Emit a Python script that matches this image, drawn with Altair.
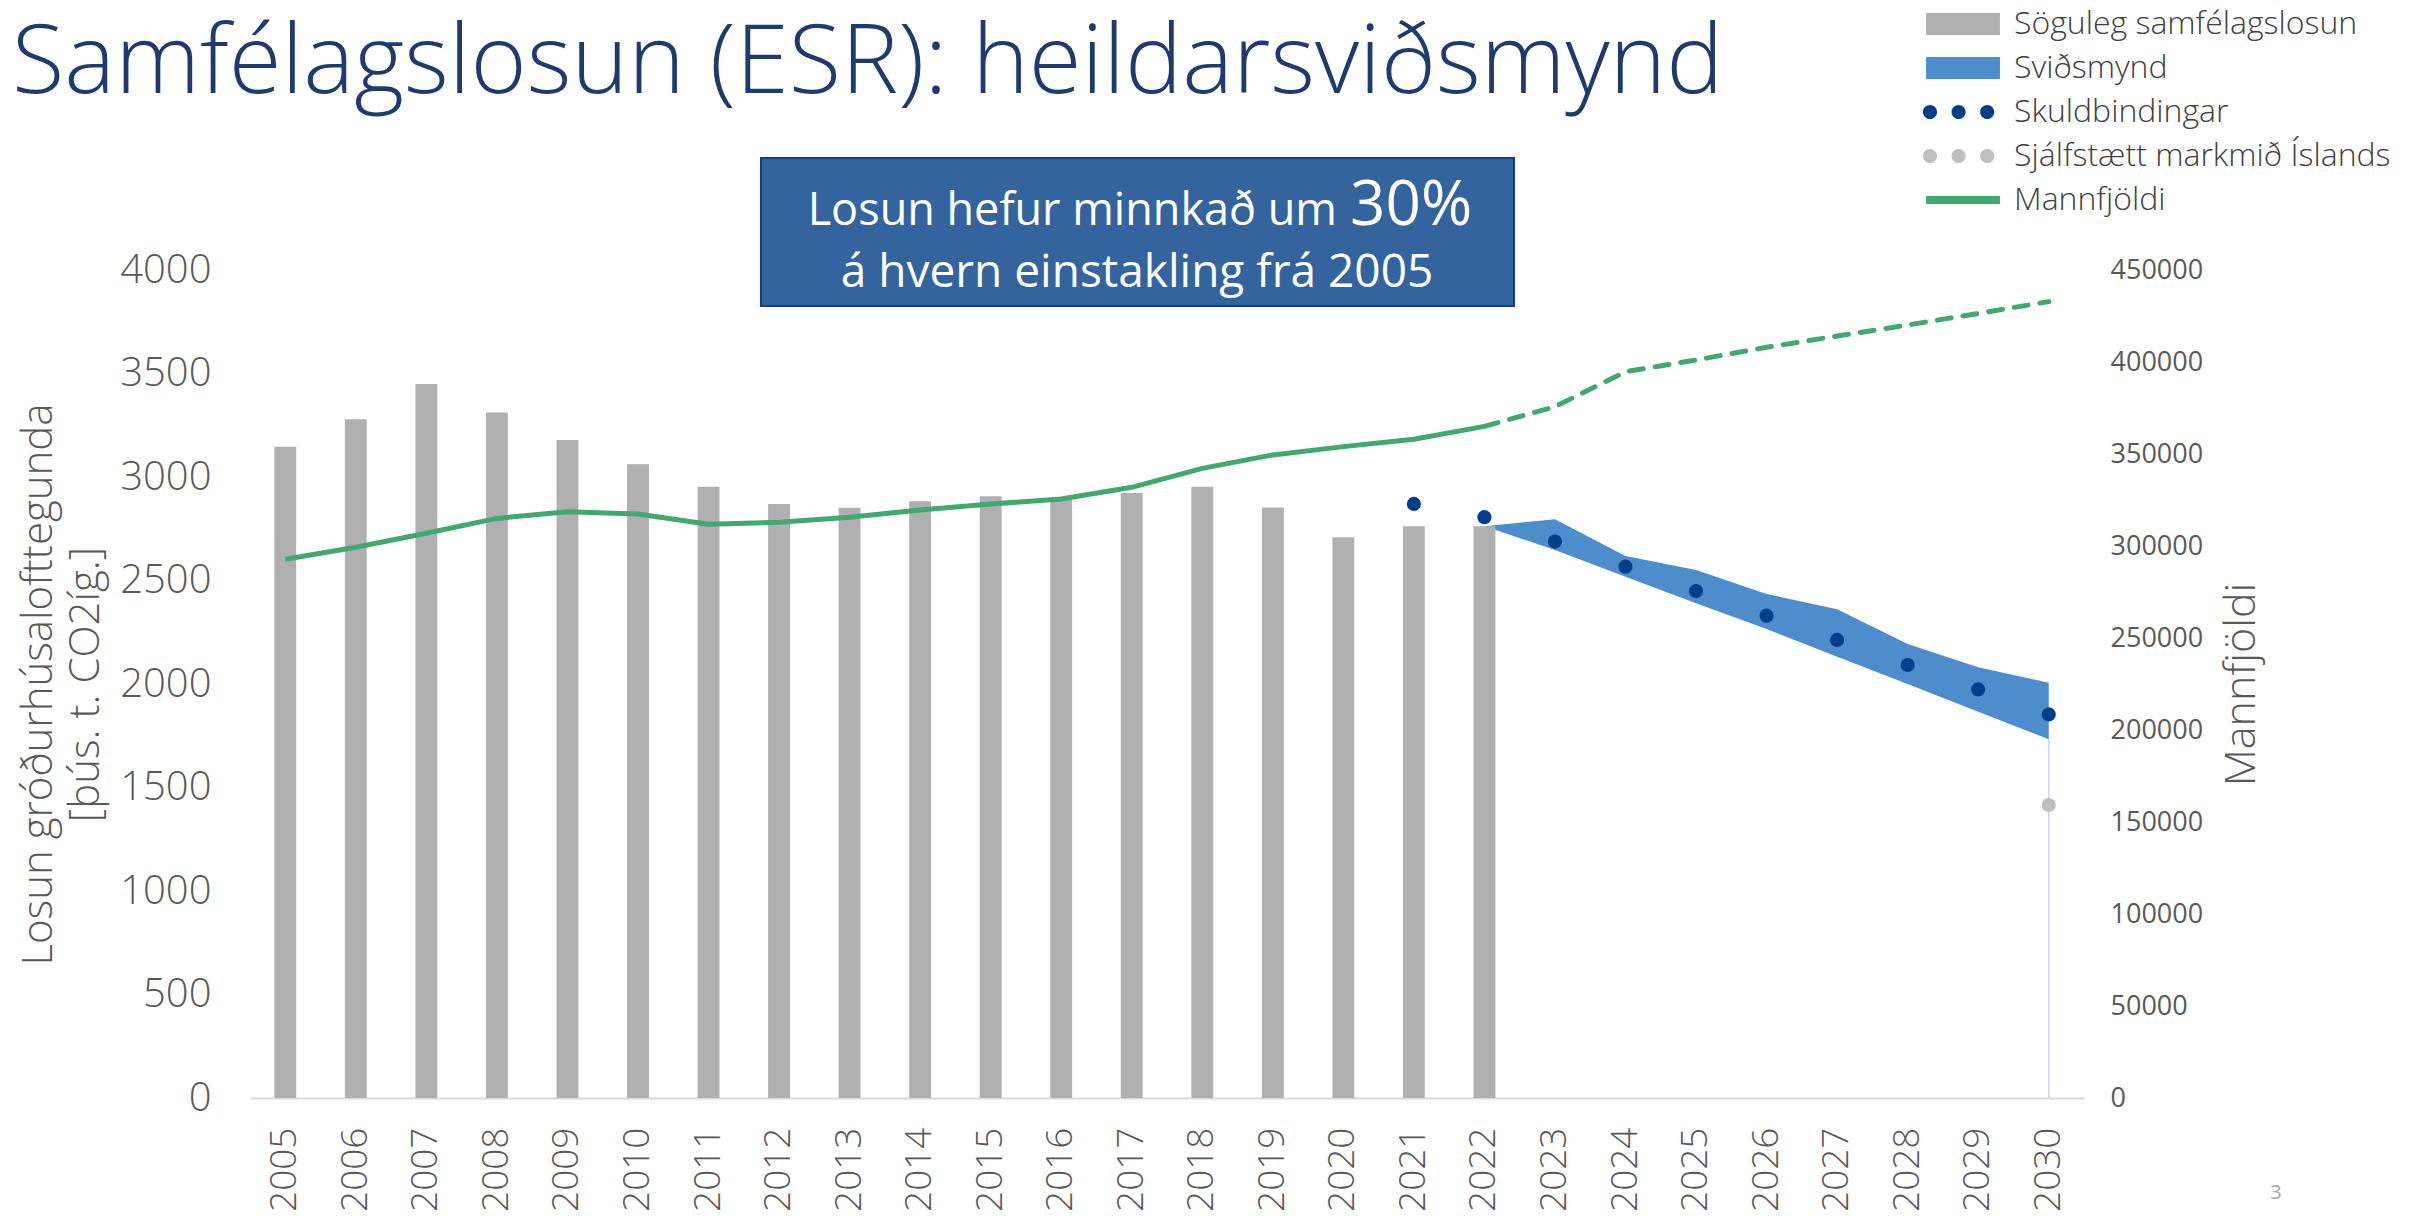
import altair as alt
import pandas as pd

# ---------------- data ----------------
years = list(range(2005, 2031))

hist_years = list(range(2005, 2023))
hist_emissions = [3146, 3279, 3449, 3311, 3179, 3061, 2953, 2870, 2852, 2883,
                  2907, 2890, 2923, 2953, 2853, 2709, 2762, 2762]

scen_years = list(range(2022, 2031))
scen_high = [2762, 2796, 2618, 2551, 2435, 2361, 2193, 2081, 2006]
scen_low = [2762, 2647, 2518, 2390, 2266, 2132, 2000, 1866, 1733]

commit_years = list(range(2021, 2031))
commit_values = [2870, 2806, 2688, 2567, 2449, 2330, 2213, 2092, 1974, 1853]

target_years = [2030]
target_values = [1415]

pop_years = list(range(2005, 2031))
population = [292800, 299300, 306900, 315000, 318600, 317400, 311800, 312900,
              315600, 319600, 322800, 325500, 331900, 342200, 349500, 354000,
              358000, 365000, 375700, 394700, 401100, 408000, 414100, 420100,
              426400, 432800]
last_actual_year = 2022

series_names = ["Söguleg samfélagslosun", "Sviðsmynd", "Skuldbindingar",
                "Sjálfstætt markmið Íslands", "Mannfjöldi"]
series_colors = ["#B0B0B0", "#4E8DCB", "#003F87", "#BFBFBF", "#41A86F"]

title_text = "Samfélagslosun (ESR): heildarsviðsmynd"
box_line1 = "Losun hefur minnkað um"
box_big = "30%"
box_line2 = "á hvern einstakling frá 2005"
left_title = ["Losun gróðurhúsalofttegunda", "[þús. t. CO2íg.]"]
right_title = "Mannfjöldi"
page_no = "3"

# ---------------- tables ----------------
hist_df = pd.DataFrame({"year": hist_years, "emissions": hist_emissions})
scen_df = pd.DataFrame({"year": scen_years, "high": scen_high, "low": scen_low})
commit_df = pd.DataFrame({"year": commit_years, "value": commit_values})
target_df = pd.DataFrame({"year": target_years, "value": target_values})
rule_df = pd.DataFrame({"year": [scen_years[-1]], "lo": [0], "hi": [scen_low[-1]]})
pop_df = pd.DataFrame({"year": pop_years, "pop": population})
pop_solid = pop_df[pop_df.year <= last_actual_year]
pop_dash = pop_df[pop_df.year >= last_actual_year]
legend_df = pd.DataFrame({"serie": series_names})

FONT = "Open Sans"
GREY = "#595959"
W, H = 1834, 828

# ---------------- scales & axes ----------------
x_scale = alt.Scale(domain=years, paddingInner=0.69, paddingOuter=0.345)
x_axis = alt.Axis(labelAngle=270, labelFontSize=37, labelFont=FONT, labelFontWeight=300,
                  labelColor=GREY, labelPadding=29, ticks=False, grid=False,
                  domainColor="#D9D9D9", domainWidth=2, labelAlign="right",
                  labelBaseline="middle")
X = alt.X("year:O", scale=x_scale, axis=x_axis, title=None)

y_left_scale = alt.Scale(domain=[0, 4000], nice=False)
y_left_axis = alt.Axis(values=list(range(0, 4001, 500)), format="d", labelFontSize=40,
                       labelFont=FONT, labelFontWeight=300, labelColor=GREY, ticks=False,
                       domain=False, grid=False, labelPadding=39, titleFontSize=42,
                       titleFont=FONT, titleFontWeight=300, titleColor=GREY,
                       titleAngle=270, titleX=-212, titleY=H / 2,
                       titleBaseline="middle", titleAlign="center", titleLineHeight=47)

y_right_scale = alt.Scale(domain=[0, 450000], nice=False)
y_right_axis = alt.Axis(orient="right", values=list(range(0, 450001, 50000)), format="d",
                        labelFontSize=27, labelFont=FONT, labelColor=GREY, ticks=False,
                        domain=False, grid=False, labelPadding=26, titleFontSize=43,
                        titleFont=FONT, titleFontWeight=300, titleColor=GREY,
                        titleAngle=270, titleX=157, titleY=H / 2,
                        titleBaseline="middle", titleAlign="center")

# legend symbol shapes (custom paths in the [-1,1] box)
def circ(cx, r):
    return (f"M{cx - r},0A{r},{r} 0 1,0 {cx + r},0A{r},{r} 0 1,0 {cx - r},0Z")

rect_path = "M-1.68,-0.5H1.68V0.5H-1.68Z"
dots_path = circ(-1.5, 0.32) + circ(-0.2, 0.32) + circ(1.1, 0.32)
line_path = "M-1.68,-0.18H1.68V0.18H-1.68Z"
shape_range = [rect_path, rect_path, dots_path, dots_path, line_path]

legend = alt.Legend(orient="none", legendX=1691, legendY=-268, title=None,
                    symbolSize=1936, symbolStrokeWidth=0, labelFontSize=32,
                    labelFont=FONT, labelFontWeight=300, labelColor="#404040",
                    labelOffset=29, rowPadding=6, padding=0, labelLimit=0)

# ---------------- layers (left axis) ----------------
area = alt.Chart(scen_df).mark_area(color=series_colors[1]).encode(
    x=X, y=alt.Y("high:Q", scale=y_left_scale, axis=y_left_axis, title=left_title),
    y2="low:Q")

rule = alt.Chart(rule_df).mark_rule(color="#C9D8EC", strokeWidth=1.5).encode(
    x=X, y=alt.Y("lo:Q", scale=y_left_scale), y2="hi:Q")

bars = alt.Chart(hist_df).mark_bar(color=series_colors[0]).encode(
    x=X, y=alt.Y("emissions:Q", scale=y_left_scale))

commit = alt.Chart(commit_df).mark_circle(size=200, opacity=1, color=series_colors[2]).encode(
    x=X, y=alt.Y("value:Q", scale=y_left_scale))

target = alt.Chart(target_df).mark_circle(size=200, opacity=1, color=series_colors[3]).encode(
    x=X, y=alt.Y("value:Q", scale=y_left_scale))

legend_layer = alt.Chart(legend_df).mark_point(filled=True, opacity=1).encode(
    color=alt.Color("serie:N", scale=alt.Scale(domain=series_names, range=series_colors),
                    legend=legend),
    shape=alt.Shape("serie:N", scale=alt.Scale(domain=series_names, range=shape_range),
                    legend=legend),
).transform_filter("false")

one = pd.DataFrame({"t": [0]})

title = alt.Chart(pd.DataFrame({"t": [title_text]})).mark_text(
    font=FONT, fontSize=96, fontWeight=300, color="#1F3A6F", align="left",
    baseline="alphabetic").encode(x=alt.value(-238), y=alt.value(-177), text="t:N")

box = alt.Chart(one).mark_rect(color="#33649E", stroke="#0E3F86", strokeWidth=2).encode(
    x=alt.value(511), x2=alt.value(1264), y=alt.value(-112), y2=alt.value(36))

box_t1 = alt.Chart(pd.DataFrame({"t": [box_line1]})).mark_text(
    font=FONT, fontSize=45, fontWeight=400, color="white", align="right",
    baseline="alphabetic").encode(x=alt.value(1087), y=alt.value(-45), text="t:N")
box_t2 = alt.Chart(pd.DataFrame({"t": [box_big]})).mark_text(
    font=FONT, fontSize=62, fontWeight=400, color="white", align="left",
    baseline="alphabetic").encode(x=alt.value(1100), y=alt.value(-45), text="t:N")
box_t3 = alt.Chart(pd.DataFrame({"t": [box_line2]})).mark_text(
    font=FONT, fontSize=46, fontWeight=400, color="white", align="center",
    baseline="alphabetic").encode(x=alt.value(887), y=alt.value(17), text="t:N")

page = alt.Chart(pd.DataFrame({"t": [page_no]})).mark_text(
    font=FONT, fontSize=20, color="#A6A6A6", align="center", baseline="middle").encode(
    x=alt.value(2026), y=alt.value(923), text="t:N")

left = alt.layer(area, rule, bars, commit, target, legend_layer,
                 title, box, box_t1, box_t2, box_t3, page)

# ---------------- layers (right axis) ----------------
Y_pop = alt.Y("pop:Q", scale=y_right_scale, axis=y_right_axis, title=right_title)
line_solid = alt.Chart(pop_solid).mark_line(color=series_colors[4], strokeWidth=5,
                                            strokeJoin="round").encode(x=X, y=Y_pop)
line_dash = alt.Chart(pop_dash).mark_line(color=series_colors[4], strokeWidth=5,
                                          strokeDash=[14, 12], strokeCap="round",
                                          strokeJoin="round").encode(x=X, y=Y_pop)
right = alt.layer(line_solid, line_dash)

chart = alt.layer(left, right).resolve_scale(y="independent").properties(
    width=W, height=H,
    padding={"left": 242, "top": 262, "right": 328, "bottom": 118},
    autosize=alt.AutoSizeParams(type="none"),
    background="white",
).configure_view(stroke=None)

chart.save("out.html", embed_options={"renderer": "svg", "actions": False})
